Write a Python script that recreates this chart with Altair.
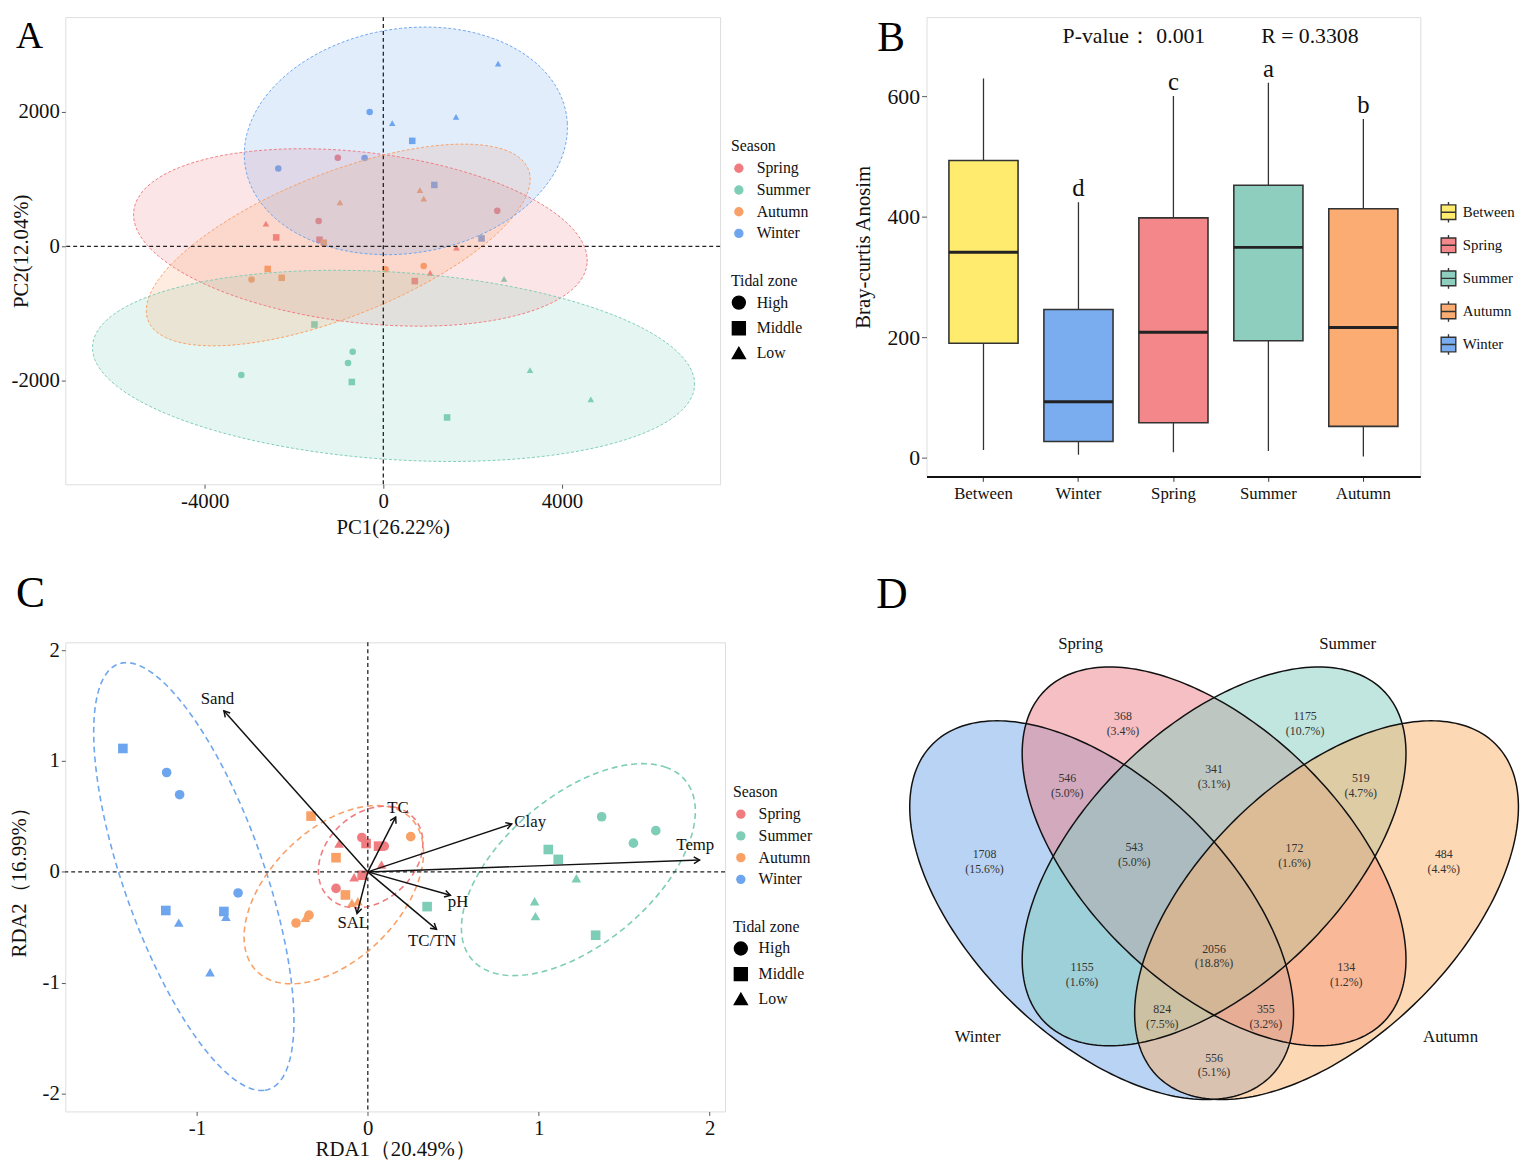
import numpy as np
import pandas as pd
import altair as alt

FONT = "Liberation Serif"

# ---------------- shared categories ----------------
seasons = ["Spring", "Summer", "Autumn", "Winter"]
season_colors = ["#F07C80", "#7ECDB7", "#F9A066", "#6DA6EE"]
zones = ["High", "Middle", "Low"]
zone_shapes = ["circle", "square", "triangle-up"]
panel_letters = ["A", "B", "C", "D"]

# ---------------- Panel A : PCA ----------------
pca_season = ["Winter"] * 9 + ["Spring"] * 9 + ["Autumn"] * 9 + ["Summer"] * 9
pca_zone = ["Low", "High", "Low", "Low", "Middle", "High", "High", "Middle", "Middle",
            "High", "High", "High", "Low", "Low", "Low", "Middle", "Middle", "Middle",
            "Low", "Low", "Low", "Middle", "Middle", "Middle", "High", "High", "High",
            "Low", "Low", "Low", "Middle", "Middle", "Middle", "High", "High", "High"]
pca_pc1 = [2571, -305, 200, 1629, 648, -2352, -419, 1143, 2200,
           -1019, -1448, 2552, -2629, 1638, 1048, -2400, -1429, 705,
           -971, 819, 905, -1333, -2590, -2276, -2952, 48, 905,
           2705, 3286, 4648, -1543, -705, 1429, -686, -790, -3181]
pca_pc2 = [2719, 2000, 1834, 1927, 1570, 1159, 1315, 914, 117,
           1320, 377, 528, 337, -20, -396, 132, 98, -518,
           655, 836, 709, 54, -337, -469, -494, -342, -293,
           -484, -1844, -2279, -1164, -2020, -2548, -1570, -1736, -1917]
# confidence ellipses (centre, semi-axes, rotation in data units)
pca_ell_season = ["Spring", "Summer", "Autumn", "Winter"]
pca_ell_cx = [-514, 229, -1010, 505]
pca_ell_cy = [132, -1780, 20, 1570]
pca_ell_a = [5093, 6749, 4417, 3626]
pca_ell_b = [1273, 1396, 1109, 1679]
pca_ell_rot = [-4.1, -2.4, 13.7, 4.05]

# ---------------- Panel B : ANOSIM boxplot ----------------
box_group = ["Between", "Winter", "Spring", "Summer", "Autumn"]
box_min = [13, 5, 9, 11, 2]
box_q1 = [190, 27, 58, 194, 52]
box_median = [341, 93, 208, 349, 216]
box_q3 = [493, 246, 398, 452, 413]
box_max = [629, 424, 600, 622, 562]
box_letters = ["", "d", "c", "a", "b"]
box_legend_order = ["Between", "Spring", "Summer", "Autumn", "Winter"]
box_colors = ["#FFEB6E", "#F3878A", "#8ECEBF", "#FBAC72", "#7AADEF"]
anosim_texts = ["P-value\uff1a 0.001", "R = 0.3308"]

# ---------------- Panel C : RDA ----------------
rda_season = ["Winter"] * 9 + ["Autumn"] * 9 + ["Spring"] * 9 + ["Summer"] * 10
rda_zone = ["Middle", "High", "High", "High", "Middle", "Low", "Middle", "Low", "Low",
            "Middle", "Middle", "Middle", "High", "High", "High", "Low", "Low", "Low",
            "High", "High", "High", "Middle", "Middle", "Middle", "Low", "Low", "Low",
            "High", "High", "High", "Middle", "Middle", "Middle", "Middle", "Low", "Low", "Low"]
rda1 = [-1.433, -1.177, -1.101, -0.759, -1.182, -1.106, -0.842, -0.830, -0.923,
        -0.332, -0.186, -0.131, 0.251, -0.420, -0.344, -0.365, -0.093, -0.058,
        -0.035, 0.096, -0.186, -0.010, 0.063, -0.033, -0.168, -0.080, 0.080,
        1.368, 1.554, 1.685, 1.056, 1.114, 0.347, 1.333, 1.220, 0.976, 0.981]
rda2 = [1.113, 0.896, 0.696, -0.190, -0.348, -0.458, -0.357, -0.405, -0.905,
        0.503, 0.128, -0.208, 0.318, -0.461, -0.390, -0.414, -0.280, -0.265,
        0.310, 0.232, -0.149, 0.256, 0.232, -0.030, 0.256, -0.048, 0.065,
        0.497, 0.259, 0.372, 0.202, 0.113, -0.313, -0.571, -0.057, -0.265, -0.399]
env_names = ["Sand", "TC", "Clay", "Temp", "pH", "TC/TN", "SAL"]
env_rda1 = [-0.842, 0.163, 0.842, 1.941, 0.483, 0.402, -0.063]
env_rda2 = [1.452, 0.494, 0.432, 0.107, -0.211, -0.518, -0.375]
env_label_rda1 = [-0.88, 0.176, 0.95, 1.916, 0.528, 0.377, -0.085]
env_label_rda2 = [1.556, 0.577, 0.449, 0.241, -0.274, -0.622, -0.458]
rda_ell_season = ["Winter", "Autumn", "Spring", "Summer"]
rda_ell_cx = [-1.018, -0.199, 0.0165, 1.232]
rda_ell_cy = [-0.042, -0.2055, 0.134, 0.0205]
rda_ell_a = [1.971, 0.856, 0.4705, 1.0555]
rda_ell_b = [0.423, 0.434, 0.286, 0.517]
rda_ell_rot = [-77.85, 66.4, 73.2, 60.85]

# ---------------- Panel D : Venn ----------------
venn_sets = ["Winter", "Spring", "Summer", "Autumn"]
venn_colors = ["#73A7EB", "#ED7F87", "#83CDBF", "#FBB16B"]
region_sets = ["Winter", "Spring", "Summer", "Autumn",
               "Winter&Spring", "Spring&Summer", "Summer&Autumn", "Winter&Summer",
               "Spring&Autumn", "Winter&Autumn",
               "Winter&Spring&Summer", "Spring&Summer&Autumn", "Winter&Summer&Autumn",
               "Winter&Spring&Autumn", "Winter&Spring&Summer&Autumn"]
region_counts = [1708, 368, 1175, 484, 546, 341, 519, 1155, 134, 556, 543, 172, 824, 355, 2056]
region_pct = ["15.6%", "3.4%", "10.7%", "4.4%", "5.0%", "3.1%", "4.7%", "1.6%",
              "1.2%", "5.1%", "5.0%", "1.6%", "7.5%", "3.2%", "18.8%"]
# four-ellipse layout (as in a VennDiagram quad layout)
venn_cx = [0.335, 0.5, 0.5, 0.665]
venn_cy = [0.49, 0.57, 0.57, 0.49]
venn_a = 0.35
venn_b = 0.19
venn_rot = [-45, -45, 45, 45]
venn_cat_dx = [-0.182, -0.196, 0.196, 0.182]
venn_cat_dy = [-0.189, 0.315, 0.315, -0.189]


# ---------------- helpers ----------------
def ellipse_outline(cx, cy, a, b, deg, n=240):
    t = np.linspace(0, 2 * np.pi, n + 1)
    th = np.radians(deg)
    x = cx + a * np.cos(t) * np.cos(th) - b * np.sin(t) * np.sin(th)
    y = cy + a * np.cos(t) * np.sin(th) + b * np.sin(t) * np.cos(th)
    return x, y, np.arange(n + 1)


def ellipse_band(cx, cy, a, b, deg, n=220):
    th = np.radians(deg)
    c, s = np.cos(th), np.sin(th)
    A = c * c / a ** 2 + s * s / b ** 2
    B = 2 * c * s * (1 / a ** 2 - 1 / b ** 2)
    C = s * s / a ** 2 + c * c / b ** 2
    ex = np.sqrt(a * a * c * c + b * b * s * s)
    xp = ex * np.cos(np.linspace(np.pi, 0, n))
    disc = np.clip(B * B * xp * xp - 4 * C * (A * xp * xp - 1), 0, None)
    y1 = (-B * xp + np.sqrt(disc)) / (2 * C)
    y2 = (-B * xp - np.sqrt(disc)) / (2 * C)
    return cx + xp, cy + y1, cy + y2


def outline_df(names, cxs, cys, aa, bb, rots):
    parts = []
    for nm, cx, cy, a, b, r in zip(names, cxs, cys, aa, bb, rots):
        x, y, i = ellipse_outline(cx, cy, a, b, r)
        parts.append(pd.DataFrame({"grp": nm, "x": x, "y": y, "i": i}))
    return pd.concat(parts, ignore_index=True)


def band_df(names, cxs, cys, aa, bb, rots):
    parts = []
    for nm, cx, cy, a, b, r in zip(names, cxs, cys, aa, bb, rots):
        x, y1, y2 = ellipse_band(cx, cy, a, b, r)
        parts.append(pd.DataFrame({"grp": nm, "x": x, "y": y1, "y2": y2}))
    return pd.concat(parts, ignore_index=True)


def inside(X, Y, cx, cy, a, b, deg):
    th = np.radians(deg)
    c, s = np.cos(th), np.sin(th)
    dx, dy = X - cx, Y - cy
    u = dx * c + dy * s
    v = -dx * s + dy * c
    return (u / a) ** 2 + (v / b) ** 2 <= 1


def letter_layer(letter, size, px, py):
    return alt.Chart(pd.DataFrame({"t": [letter]})).mark_text(
        fontSize=size, font=FONT, align="left", baseline="alphabetic", color="black"
    ).encode(x=alt.value(px), y=alt.value(py), text="t:N")


num_label = "'' + datum.value"
axis_common = dict(grid=False, domain=False, tickColor="#555", tickSize=4, labelPadding=2,
                   labelFont=FONT, titleFont=FONT, labelColor="#111", titleColor="#111",
                   titleFontWeight="normal", labelFontSize=21, titleFontSize=21)
legend_common = dict(orient="none", labelFont=FONT, titleFont=FONT, titleFontWeight="normal",
                     labelFontSize=16, titleFontSize=16, labelColor="#111", titleColor="#111",
                     rowPadding=6, titlePadding=6, labelOffset=10)
season_scale = alt.Scale(domain=seasons, range=season_colors)
# same colours, listed in another order for the ellipse layers (keeps their
# hidden guides from being merged with the visible Season legend)
ellipse_scale = alt.Scale(domain=seasons[::-1], range=season_colors[::-1])
zone_scale = alt.Scale(domain=zones, range=zone_shapes)

# ================= Panel A =================
A_W, A_H = 663, 473
A_X = [-7124, 7544]
A_Y = [-3543, 3412]
pca_df = pd.DataFrame({"season": pca_season, "zone": pca_zone, "x": pca_pc1, "y": pca_pc2})
pca_band = band_df(pca_ell_season, pca_ell_cx, pca_ell_cy, pca_ell_a, pca_ell_b, pca_ell_rot)
pca_line = outline_df(pca_ell_season, pca_ell_cx, pca_ell_cy, pca_ell_a, pca_ell_b, pca_ell_rot)

ax_x = alt.X("x:Q", scale=alt.Scale(domain=A_X, nice=False, zero=False),
             axis=alt.Axis(values=[-4000, 0, 4000], title="PC1(26.22%)", labelExpr=num_label,
                           titlePadding=6, **axis_common))
ax_y = alt.Y("y:Q", scale=alt.Scale(domain=A_Y, nice=False, zero=False),
             axis=alt.Axis(values=[-2000, 0, 2000], title="PC2(12.04%)", labelExpr=num_label,
                           titleX=-44, titleBaseline="middle", **axis_common))

a_points = alt.Chart(pca_df).mark_point(filled=True, size=44, opacity=1).encode(
    x=ax_x, y=ax_y,
    color=alt.Color("season:N", scale=season_scale,
                    legend=alt.Legend(title="Season", legendX=A_W + 11, legendY=123,
                                      symbolType="circle", symbolSize=90, symbolOpacity=1,
                                      **legend_common)),
    shape=alt.Shape("zone:N", scale=zone_scale,
                    legend=alt.Legend(title="Tidal zone", legendX=A_W + 11, legendY=259,
                                      symbolSize=170, symbolFillColor="black",
                                      symbolStrokeColor="black", **legend_common)),
)
a_fill = alt.Chart(pca_band).mark_area(fillOpacity=0.2).encode(
    x="x:Q", y="y:Q", y2="y2:Q",
    fill=alt.Fill("grp:N", scale=ellipse_scale, legend=None),
)
a_line = alt.Chart(pca_line).mark_line(strokeDash=[3, 2], strokeWidth=1).encode(
    x="x:Q", y="y:Q", order="i:Q",
    stroke=alt.Stroke("grp:N", scale=ellipse_scale, legend=None),
)
a_zero_v = alt.Chart(pd.DataFrame({"v": [0]})).mark_rule(
    color="#222", strokeDash=[4, 3], strokeWidth=1.3).encode(x="v:Q")
a_zero_h = alt.Chart(pd.DataFrame({"v": [0]})).mark_rule(
    color="#222", strokeDash=[4, 3], strokeWidth=1.3).encode(y="v:Q")

panel_a = alt.layer(a_points, a_fill, a_line, a_zero_v, a_zero_h,
                    letter_layer(panel_letters[0], 38, -50, 31)).properties(
    width=A_W, height=A_H)

# ================= Panel B =================
B_W, B_H = 500, 465
B_Y = [-31, 731]
box_df = pd.DataFrame({"group": box_group, "lo": box_min, "q1": box_q1, "med": box_median,
                       "q3": box_q3, "hi": box_max, "sig": box_letters})
bx = alt.X("group:N", sort=box_group,
           scale=alt.Scale(domain=box_group, paddingInner=0.2, paddingOuter=0.2),
           axis=alt.Axis(title=None, labelAngle=0, labelFontSize=17, labelPadding=4,
                         grid=False, domain=True, domainColor="#111", domainWidth=2,
                         tickColor="#333", tickSize=5, labelFont=FONT, labelColor="#111"))
by_scale = alt.Scale(domain=B_Y, nice=False, zero=False)
b_axis_style = {k: v for k, v in axis_common.items() if k not in ("labelFontSize", "tickSize")}
b_whisk = alt.Chart(box_df).mark_rule(color="#333", strokeWidth=1.3).encode(
    x=bx,
    y=alt.Y("lo:Q", scale=by_scale,
            axis=alt.Axis(values=[0, 200, 400, 600], title="Bray-curtis Anosim",
                          titleX=-64, titleBaseline="middle", labelFontSize=22, tickSize=5,
                          **b_axis_style)),
    y2="hi:Q",
)
box_key = "M-1,-1H1V1H-1ZM-1,0H1M0,-1V-1.4M0,1V1.4"
b_box = alt.Chart(box_df).mark_bar(size=70, stroke="#333", strokeWidth=1.6).encode(
    x=bx, y=alt.Y("q1:Q", scale=by_scale), y2="q3:Q",
    fill=alt.Fill("group:N", scale=alt.Scale(domain=box_legend_order, range=box_colors),
                  legend=alt.Legend(title=None, legendX=B_W + 20, legendY=189,
                                    symbolType=box_key, symbolSize=220,
                                    symbolStrokeColor="#333", symbolStrokeWidth=1.4,
                                    **{**legend_common, "labelFontSize": 15, "rowPadding": 6.5,
                                       "labelOffset": 6})),
)
b_med = alt.Chart(box_df).mark_tick(size=70, thickness=3, color="#222", opacity=1).encode(
    x=bx, y=alt.Y("med:Q", scale=by_scale))
b_sig = alt.Chart(box_df).mark_text(baseline="alphabetic", fontSize=25, font=FONT, dy=-6,
                                    color="#111").encode(
    x=bx, y=alt.Y("hi:Q", scale=by_scale), text="sig:N")
b_p = alt.Chart(pd.DataFrame({"t": [anosim_texts[0]]})).mark_text(
    fontSize=22, font=FONT, color="#111", dx=-40, baseline="middle").encode(
    x=alt.datum("Spring"), y=alt.datum(700), text="t:N")
b_r = alt.Chart(pd.DataFrame({"t": [anosim_texts[1]]})).mark_text(
    fontSize=22, font=FONT, color="#111", dx=42, baseline="middle").encode(
    x=alt.datum("Summer"), y=alt.datum(700), text="t:N")

panel_b = alt.layer(b_whisk, b_box, b_med, b_sig, b_p, b_r,
                    letter_layer(panel_letters[1], 42, -50, 34)).properties(
    width=B_W, height=B_H)

# ================= Panel C =================
C_W, C_H = 668, 475
C_X = [-1.77, 2.09]
C_Y = [-2.16, 2.07]
px_x = C_W / (C_X[1] - C_X[0])
px_y = C_H / (C_Y[1] - C_Y[0])
rda_df = pd.DataFrame({"season": rda_season, "zone": rda_zone, "x": rda1, "y": rda2})
env_df = pd.DataFrame({"name": env_names, "x": env_rda1, "y": env_rda2,
                       "lx": env_label_rda1, "ly": env_label_rda2})
env_df["ox"] = 0.0
env_df["oy"] = 0.0
env_df["ang"] = np.degrees(np.arctan2(env_df["x"] * px_x, env_df["y"] * px_y)) % 360
rda_line = outline_df(rda_ell_season, rda_ell_cx, rda_ell_cy, rda_ell_a, rda_ell_b, rda_ell_rot)

cx_enc = alt.X("x:Q", scale=alt.Scale(domain=C_X, nice=False, zero=False),
               axis=alt.Axis(values=[-1, 0, 1, 2], title="RDA1\uff0820.49%\uff09",
                             labelExpr=num_label, titlePadding=1, **axis_common))
cy_enc = alt.Y("y:Q", scale=alt.Scale(domain=C_Y, nice=False, zero=False),
               axis=alt.Axis(values=[-2, -1, 0, 1, 2], title="RDA2\uff0816.99%\uff09",
                             labelExpr=num_label, titleX=-46, titleBaseline="middle",
                             **axis_common))
c_points = alt.Chart(rda_df).mark_point(filled=True, size=95, opacity=1).encode(
    x=cx_enc, y=cy_enc,
    color=alt.Color("season:N", scale=season_scale,
                    legend=alt.Legend(title="Season", legendX=C_W + 8, legendY=144,
                                      symbolType="circle", symbolSize=90, symbolOpacity=1,
                                      **legend_common)),
    shape=alt.Shape("zone:N", scale=zone_scale,
                    legend=alt.Legend(title="Tidal zone", legendX=C_W + 8, legendY=280,
                                      symbolSize=170, symbolFillColor="black",
                                      symbolStrokeColor="black", **legend_common)),
)
c_ell = alt.Chart(rda_line).mark_line(strokeDash=[6, 4], strokeWidth=1.6).encode(
    x="x:Q", y="y:Q", order="i:Q",
    stroke=alt.Stroke("grp:N", scale=ellipse_scale, legend=None))
c_zero_v = alt.Chart(pd.DataFrame({"v": [0]})).mark_rule(
    color="#222", strokeDash=[4, 3], strokeWidth=1.3).encode(x="v:Q")
c_zero_h = alt.Chart(pd.DataFrame({"v": [0]})).mark_rule(
    color="#222", strokeDash=[4, 3], strokeWidth=1.3).encode(y="v:Q")
c_arrow = alt.Chart(env_df).mark_rule(color="#111", strokeWidth=1.5).encode(
    x="ox:Q", y="oy:Q", x2="x:Q", y2="y:Q")
c_head = alt.Chart(env_df).mark_point(
    shape="M-0.55,0.95L0,0L0.55,0.95", filled=False, size=150, color="#111",
    strokeWidth=1.5, opacity=1).encode(
    x="x:Q", y="y:Q", angle=alt.Angle("ang:Q", scale=None))
c_text = alt.Chart(env_df).mark_text(fontSize=17, font=FONT, color="#111").encode(
    x="lx:Q", y="ly:Q", text="name:N")

panel_c = alt.layer(c_points, c_ell, c_zero_v, c_zero_h, c_arrow, c_head, c_text,
                    letter_layer(panel_letters[2], 44, -50, -36)).properties(
    width=C_W, height=C_H)

# ================= Panel D =================
D_W, D_H = 655, 475
D_X = [0.0099, 0.0099 + D_W / 690]
D_Y = [0.8883 - D_H / 681, 0.8883]
venn_band = band_df(venn_sets, venn_cx, venn_cy, [venn_a] * 4, [venn_b] * 4, venn_rot)
venn_line = outline_df(venn_sets, venn_cx, venn_cy, [venn_a] * 4, [venn_b] * 4, venn_rot)

# label anchor for each region: deepest interior point of the region
gx = np.arange(D_X[0], D_X[1], 0.002)
gy = np.arange(D_Y[0], D_Y[1], 0.002)
GX, GY = np.meshgrid(gx, gy)
member = {nm: inside(GX, GY, cx, cy, venn_a, venn_b, r)
          for nm, cx, cy, r in zip(venn_sets, venn_cx, venn_cy, venn_rot)}
lab_x, lab_y = [], []
for reg in region_sets:
    want = set(reg.split("&"))
    mask = np.ones_like(GX, dtype=bool)
    for nm in venn_sets:
        mask &= member[nm] if nm in want else ~member[nm]
    cur = mask
    while True:
        nxt = cur.copy()
        nxt[1:, :] &= cur[:-1, :]
        nxt[:-1, :] &= cur[1:, :]
        nxt[:, 1:] &= cur[:, :-1]
        nxt[:, :-1] &= cur[:, 1:]
        nxt[0, :] = False
        nxt[-1, :] = False
        nxt[:, 0] = False
        nxt[:, -1] = False
        if not nxt.any():
            break
        cur = nxt
    lab_x.append(float(GX[cur].mean()))
    lab_y.append(float(GY[cur].mean()))
region_df = pd.DataFrame({"x": lab_x, "y": lab_y,
                          "label": [f"{c}\n({p})" for c, p in zip(region_counts, region_pct)]})
cat_df = pd.DataFrame({"name": venn_sets,
                       "x": np.array(venn_cx) + np.array(venn_cat_dx),
                       "y": np.array(venn_cy) + np.array(venn_cat_dy)})

dx_enc = alt.X("x:Q", scale=alt.Scale(domain=D_X, nice=False, zero=False), axis=None)
dy_enc = alt.Y("y:Q", scale=alt.Scale(domain=D_Y, nice=False, zero=False), axis=None)
d_layers = []
for nm, col in zip(venn_sets, venn_colors):
    d_layers.append(alt.Chart(venn_band[venn_band["grp"] == nm]).mark_area(
        color=col, fillOpacity=0.5).encode(x=dx_enc, y=dy_enc, y2="y2:Q"))
d_layers.append(alt.Chart(venn_line).mark_line(color="#111", strokeWidth=1.5).encode(
    x="x:Q", y="y:Q", detail="grp:N", order="i:Q"))
d_layers.append(alt.Chart(region_df).mark_text(fontSize=12, font=FONT, color="#333",
                                               lineBreak="\n", lineHeight=15).encode(
    x="x:Q", y="y:Q", text="label:N"))
d_layers.append(alt.Chart(cat_df).mark_text(fontSize=17, font=FONT, color="#111").encode(
    x="x:Q", y="y:Q", text="name:N"))
d_layers.append(letter_layer(panel_letters[3], 44, -4, -35))

panel_d = alt.layer(*d_layers).properties(
    width=D_W, height=D_H, view=alt.ViewBackground(strokeOpacity=0))

# ================= assemble =================
indep = dict(color="independent", shape="independent", fill="independent",
             stroke="independent")
row1 = alt.hconcat(panel_a, panel_b, spacing=40).resolve_scale(**indep)
row2 = alt.hconcat(panel_c, panel_d, spacing=63).resolve_scale(**indep)
chart = alt.vconcat(row1, row2, spacing=33).resolve_scale(**indep).properties(
    padding=0, background="white"
).configure_view(stroke="#8f8f8f", strokeWidth=1.4).configure(font=FONT)

chart.save("out.html", embed_options={"renderer": "svg", "actions": False})
